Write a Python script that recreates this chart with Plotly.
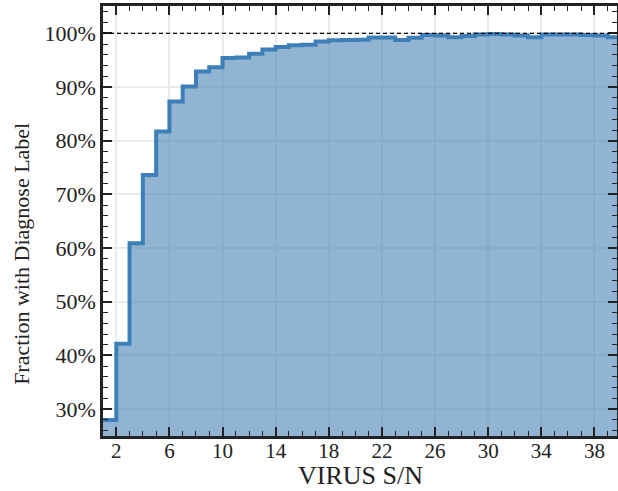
import plotly.graph_objects as go

# Data (step plot, value holds from x to x+1)
sn_values = list(range(1, 40))
fraction_pct = [28.0, 42.2, 60.9, 73.6, 81.7, 87.3, 90.1, 92.9, 93.7, 95.4,
                95.5, 96.2, 97.0, 97.45, 97.8, 97.9, 98.5, 98.7, 98.75, 98.8,
                99.25, 99.25, 98.75, 99.2, 99.7, 99.6, 99.3, 99.5, 99.8, 99.9,
                99.8, 99.6, 99.3, 99.8, 99.8, 99.8, 99.7, 99.6, 99.3]
x_tick_vals = [2, 6, 10, 14, 18, 22, 26, 30, 34, 38]
reference_level = 1.0
x_title = "VIRUS S/N"
y_title = "Fraction with Diagnose Label"

xs = sn_values + [sn_values[-1] + 1]
ys = [v / 100 for v in fraction_pct]
ys = ys + [ys[-1]]

FONT = "Times New Roman, Liberation Serif, Tinos, serif"
INK = "#222222"

fig = go.Figure()
fig.add_trace(go.Scatter(
    x=xs, y=ys, mode="lines", line_shape="hv",
    line=dict(color="#3f7fb8", width=4),
    fill="tozeroy", fillcolor="rgba(70,130,180,0.6)",
    showlegend=False, hoverinfo="skip",
))

fig.add_shape(type="line", xref="paper", x0=0, x1=1, yref="y",
              y0=reference_level, y1=reference_level,
              line=dict(color="black", width=1.2, dash="4px,3px"), layer="above")

axis_common = dict(
    showline=True, linewidth=2.5, linecolor=INK, mirror="ticks",
    ticks="inside", ticklen=9, tickwidth=1.5, tickcolor=INK,
    showgrid=True, gridcolor="#ebebeb", gridwidth=1.5, zeroline=False,
    automargin=False,
)

fig.update_xaxes(
    **axis_common,
    range=[1, 39.7], tickmode="array", tickvals=x_tick_vals,
    tickfont=dict(family=FONT, size=21, color=INK),
    ticklabelstandoff=-6,
    minor=dict(dtick=1, tick0=0, ticklen=5, tickwidth=1.2,
               tickcolor=INK, ticks="inside", showgrid=False),
)
fig.update_yaxes(
    **axis_common,
    range=[0.25, 1.051], tick0=0, dtick=0.1, tickformat=".0%",
    tickfont=dict(family=FONT, size=22, color=INK),
    minor=dict(dtick=0.02, tick0=0, ticklen=5, tickwidth=1.2,
               tickcolor=INK, ticks="inside", showgrid=False),
)

fig.add_annotation(text=x_title, xref="paper", yref="paper",
                   x=0.5, y=-0.093, xanchor="center", yanchor="middle",
                   showarrow=False, font=dict(family=FONT, size=26, color=INK))
fig.add_annotation(text=y_title, xref="paper", yref="paper",
                   x=-0.16, y=0.423, xanchor="center", yanchor="middle",
                   textangle=-90, showarrow=False,
                   font=dict(family=FONT, size=22, color=INK))

fig.update_layout(
    width=618, height=491,
    margin=dict(l=103, r=1, t=6, b=55),
    plot_bgcolor="white", paper_bgcolor="white",
)

fig.write_html("out.html")
